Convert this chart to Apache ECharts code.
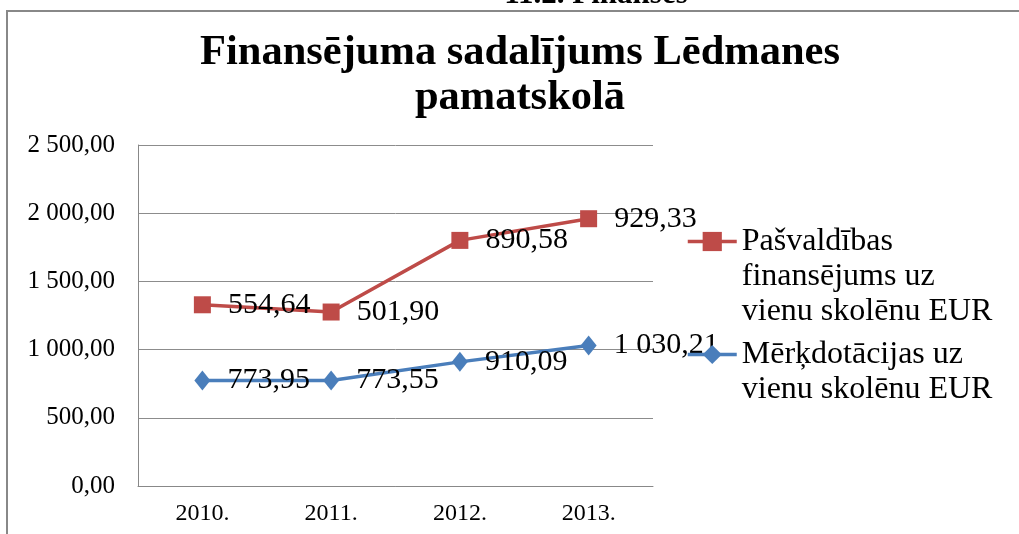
<!DOCTYPE html>
<html lang="lv">
<head>
    <meta charset="utf-8">
    <title>Finansējuma sadalījums Lēdmanes pamatskolā</title>
    <style>
        html, body { margin: 0; padding: 0; background: #fff; overflow: hidden; }
    </style>
</head>
<body>
	<div id="chart-container" style="width: 1019px; height: 534px;"></div>

	<script type="text/javascript" src="https://cdn.jsdelivr.net/npm/echarts@6/dist/echarts.min.js"></script>
	<script type="text/javascript">
		// dati no attēla
		var years = ['2010.', '2011.', '2012.', '2013.'];
		var merkdotacijas = [773.95, 773.55, 910.09, 1030.21];
		var pasvaldibas = [554.64, 501.90, 890.58, 929.33];
		var seriesNames = [
			'Pašvaldības\nfinansējums uz\nvienu skolēnu EUR',
			'Mērķdotācijas uz\nvienu skolēnu EUR'
		];
		var yTicks = { min: 0, max: 2500, interval: 500 };

		var serif = '"Liberation Serif", "DejaVu Serif", serif';

		// 1 030,21 formāts
		function lvNumber(v) {
			var parts = Number(v).toFixed(2).split('.');
			parts[0] = parts[0].replace(/\B(?=(\d{3})+(?!\d))/g, ' ');
			return parts[0] + ',' + parts[1];
		}

		// leģendas ikona pret pirmo rindu: tukšas rindas priekšā
		function legendLabel(name) {
			var n = name.split('\n').length;
			return new Array(n).join('\n') + name;
		}

		var chartDom = document.getElementById('chart-container');
		var myChart = echarts.init(chartDom);

		var labelStyle = {
			show: true,
			position: 'right',
			distance: 17,
			color: '#000',
			fontFamily: serif,
			fontSize: 30,
			formatter: function (p) { return lvNumber(p.value); }
		};

		var legendBase = {
			orient: 'vertical',
			left: 686,
			padding: 0,
			itemWidth: 49,
			itemHeight: 24,
			formatter: legendLabel,
			lineStyle: { width: 3.5 },
			textStyle: {
				color: '#000',
				fontFamily: serif,
				fontSize: 32,
				lineHeight: 35
			}
		};

		var option = {
			backgroundColor: '#fff',
			animation: false,
			title: {
				text: 'Finansējuma sadalījums Lēdmanes\npamatskolā',
				left: 520,
				top: 31,
				padding: 0,
				textAlign: 'center',
				textStyle: {
					fontFamily: serif,
					fontWeight: 'bold',
					fontSize: 42.5,
					lineHeight: 45,
					color: '#000'
				}
			},
			graphic: [
				{
					type: 'text',
					z: -10,
					style: {
						text: '11.2. Finanses',
						x: 596,
						y: 10,
						align: 'center',
						verticalAlign: 'bottom',
						font: 'bold 31px ' + serif,
						fill: '#000'
					}
				},
				{
					type: 'rect',
					z: -5,
					shape: { x: 7, y: 11, width: 1100, height: 600 },
					style: { fill: 'none', stroke: '#888', lineWidth: 2 }
				}
			],
			legend: [
				echarts.util.extend({ top: 154, data: [seriesNames[0]] }, legendBase),
				echarts.util.extend({ top: 302, data: [seriesNames[1]] }, legendBase)
			],
			grid: {
				left: 138,
				right: 366,
				top: 145,
				bottom: 48,
				containLabel: false
			},
			xAxis: {
				type: 'category',
				data: years,
				boundaryGap: true,
				axisLine: { lineStyle: { color: '#888', width: 1 } },
				axisTick: { show: false },
				axisLabel: {
					color: '#000',
					fontFamily: serif,
					fontSize: 24,
					margin: 16
				}
			},
			yAxis: {
				type: 'value',
				min: yTicks.min,
				max: yTicks.max,
				interval: yTicks.interval,
				axisLine: { show: true, lineStyle: { color: '#888', width: 1 } },
				axisTick: { show: false },
				splitLine: { lineStyle: { color: '#8c8c8c', width: 1 } },
				axisLabel: {
					color: '#000',
					fontFamily: serif,
					fontSize: 25,
					margin: 23,
					formatter: lvNumber
				}
			},
			series: [
				{
					name: seriesNames[1],
					type: 'line',
					stack: 'kopa',
					data: merkdotacijas,
					symbol: 'diamond',
					symbolSize: [16, 20],
					color: '#4a7ebb',
					lineStyle: { width: 3.5, color: '#4a7ebb' },
					itemStyle: { color: '#4a7ebb' },
					label: labelStyle,
					z: 3
				},
				{
					name: seriesNames[0],
					type: 'line',
					stack: 'kopa',
					data: pasvaldibas,
					symbol: 'rect',
					symbolSize: 17,
					color: '#be4b48',
					lineStyle: { width: 3.5, color: '#be4b48' },
					itemStyle: { color: '#be4b48' },
					label: labelStyle,
					z: 2
				}
			]
		};

		myChart.setOption(option);
	</script>
</body>
</html>
